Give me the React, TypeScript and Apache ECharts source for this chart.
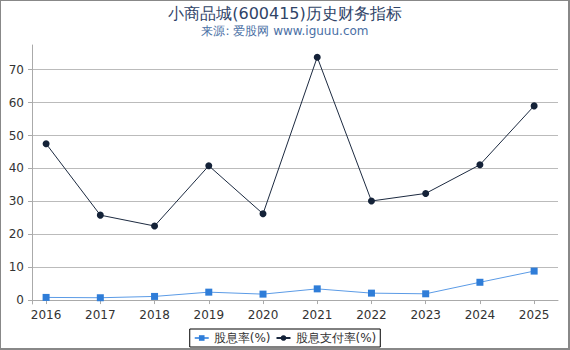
import React, { useEffect, useRef } from "react";
import * as echarts from "echarts";

const years = [2016, 2017, 2018, 2019, 2020, 2021, 2022, 2023, 2024, 2025];
const dividendYield = [0.8, 0.7, 1.1, 2.4, 1.8, 3.4, 2.1, 1.9, 5.4, 8.8];
const payoutRatio = [47.5, 25.8, 22.5, 40.8, 26.2, 73.8, 30.1, 32.4, 41.1, 59.0];
const yTicks = [0, 10, 20, 30, 40, 50, 60, 70];

export default function App() {
  const ref = useRef<HTMLDivElement>(null);
  useEffect(() => {
    if (!ref.current) return;
    const chart = echarts.init(ref.current, undefined, { renderer: "svg" });
    chart.setOption({
      animation: false,
      textStyle: { fontFamily: "DejaVu Sans" },
      title: {
        text: "小商品城(600415)历史财务指标",
        subtext: "来源: 爱股网 www.iguuu.com",
        left: "center",
        top: 0,
        itemGap: 4,
        textStyle: { fontSize: 16, fontWeight: "normal", color: "#2f4468", fontFamily: "DejaVu Sans" },
        subtextStyle: { fontSize: 12, color: "#4a6fa5", fontFamily: "DejaVu Sans" },
      },
      legend: {
        bottom: 3,
        left: "center",
        borderColor: "#000",
        borderWidth: 1,
        borderRadius: 0,
        padding: [3, 4],
        itemGap: 5,
        itemWidth: 14,
        itemHeight: 7,
        textStyle: { fontSize: 12, color: "#333" },
        data: ["股息率(%)", "股息支付率(%)"],
      },
      grid: { left: 32, right: 12, top: 45, bottom: 46 },
      xAxis: {
        type: "value",
        min: 2015.74,
        max: 2025.44,
        axisLine: { show: true, lineStyle: { color: "#aaa" } },
        axisTick: { show: true, length: 4, lineStyle: { color: "#aaa" }, customValues: years },
        axisLabel: { customValues: years, color: "#333", fontSize: 12, margin: 5, formatter: (v: number) => String(Math.round(v)) },
        splitLine: { show: false },
      },
      yAxis: {
        type: "value",
        min: -1.2,
        max: 77.5,
        axisLine: { show: true, lineStyle: { color: "#aaa" } },
        axisTick: { show: true, length: 4, lineStyle: { color: "#aaa" }, customValues: yTicks },
        axisLabel: { customValues: yTicks, color: "#333", fontSize: 12, margin: 8 },
        splitLine: { show: true, lineStyle: { color: "#bbb" } },
      },
      graphic: [
        {
          type: "rect",
          shape: { x: 0, y: 0, width: 569, height: 349 },
          style: { fill: "none", stroke: "#888", lineWidth: 2 },
          silent: true,
        },
      ],
      series: [
        {
          name: "股息率(%)",
          type: "line",
          data: years.map((y, i) => [y, dividendYield[i]]),
          symbol: "rect",
          symbolSize: 7,
          lineStyle: { width: 1, color: "#5b9be6" },
          itemStyle: { color: "#2f7dd8" },
        },
        {
          name: "股息支付率(%)",
          type: "line",
          data: years.map((y, i) => [y, payoutRatio[i]]),
          symbol: "circle",
          symbolSize: 7,
          lineStyle: { width: 1, color: "#1c2a40" },
          itemStyle: { color: "#142238" },
        },
      ],
    });
    return () => chart.dispose();
  }, []);
  return <div ref={ref} style={{ position: "absolute", left: 0, top: 0, width: 570, height: 350 }} />;
}
